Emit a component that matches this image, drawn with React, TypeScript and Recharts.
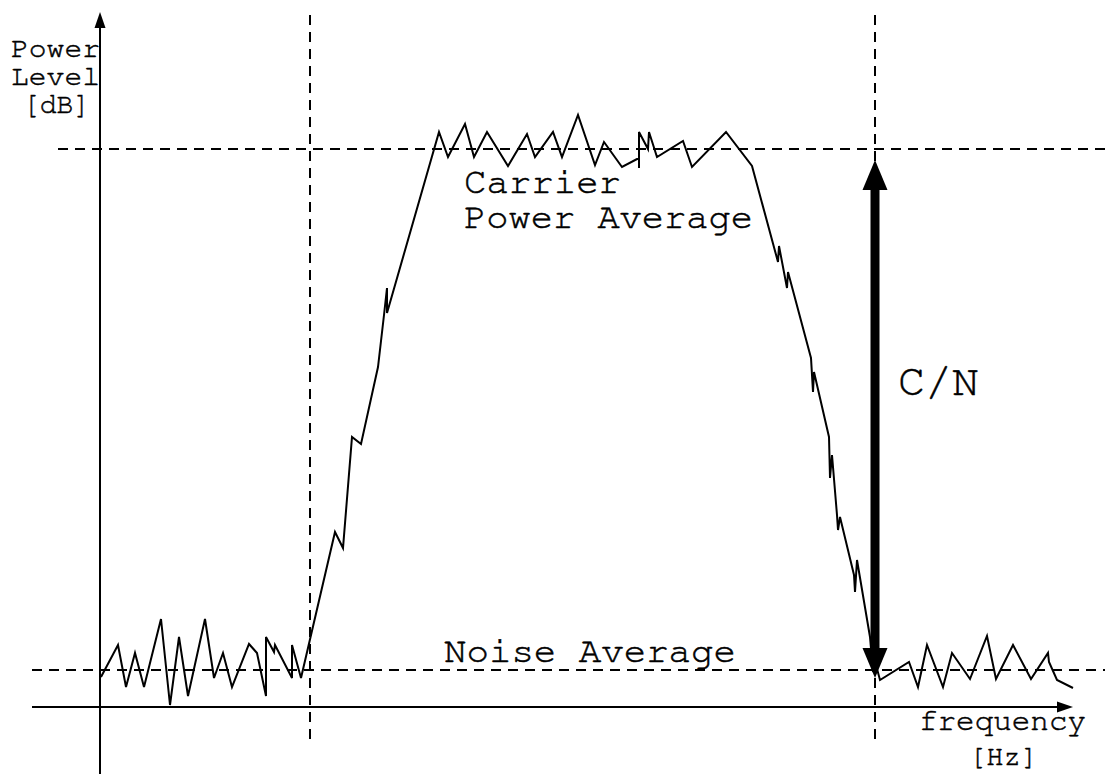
import React from "react";
import { LineChart, Line, XAxis, YAxis, ReferenceLine, Customized } from "recharts";

// [frequency, level] pairs (arbitrary units, origin at the axis crossing)
const noiseLeft: [number, number][] = [
  [1, 30], [18, 62], [26, 20], [35, 54], [44, 20], [61, 88], [70, 2], [79, 70],
  [88, 11], [105, 88], [114, 29], [123, 54], [132, 20], [149, 63], [157, 54],
  [166, 11], [166, 70], [174, 55], [175, 62], [192, 29], [192, 62], [201, 29],
];
const risingEdge: [number, number][] = [
  [235, 175], [243, 159], [252, 270], [261, 263], [278, 340], [284, 392],
  [287, 419], [287, 394], [339, 575],
];
const carrierTop: [number, number][] = [
  [348, 550], [365, 583], [374, 550], [387, 575], [408, 541], [427, 573],
  [435, 550], [453, 575], [462, 550], [478, 592], [495, 542], [504, 565],
  [522, 540], [539, 549], [539, 539], [539, 575], [548, 558], [549, 575],
  [557, 550], [583, 566], [592, 540], [626, 575], [652, 541],
];
const fallingEdge: [number, number][] = [
  [678, 445], [679, 461], [687, 419], [688, 435], [711, 349], [713, 315],
  [714, 335], [729, 270], [730, 229], [732, 252], [737, 192], [738, 177],
  [740, 190], [754, 132], [755, 115], [757, 147], [770, 70], [773, 35],
];
const noiseRight: [number, number][] = [
  [776, 42], [780, 27], [809, 45], [818, 20], [827, 62], [843, 20], [852, 54],
  [870, 28], [887, 71], [896, 28], [913, 62], [931, 28], [948, 54], [949, 45],
  [957, 27], [973, 19],
];

const noiseAverage = 37;
const carrierAverage = 558;
const bandEdges = [210, 775];

const data = [...noiseLeft, ...risingEdge, ...carrierTop, ...fallingEdge, ...noiseRight].map(
  ([f, level]) => ({ f, level })
);

const W = 1105;
const H = 774;

const arrowShape = (head: number, headW: number, shaft: number, both: boolean) => (props: any) => {
  const { x1, y1, x2, y2 } = props;
  const len = Math.hypot(x2 - x1, y2 - y1) || 1;
  const ux = (x2 - x1) / len;
  const uy = (y2 - y1) / len;
  const nx = -uy;
  const ny = ux;
  const tri = (tx: number, ty: number, dx: number, dy: number) => {
    const bx = tx - dx * head;
    const by = ty - dy * head;
    return `${tx},${ty} ${bx + nx * headW / 2},${by + ny * headW / 2} ${bx - nx * headW / 2},${by - ny * headW / 2}`;
  };
  const sx = both ? x1 + ux * (head - 1) : x1;
  const sy = both ? y1 + uy * (head - 1) : y1;
  return (
    <g>
      <line x1={sx} y1={sy} x2={x2 - ux * (head - 1)} y2={y2 - uy * (head - 1)} stroke="#000" strokeWidth={shaft} />
      <polygon points={tri(x2, y2, ux, uy)} fill="#000" />
      {both && <polygon points={tri(x1, y1, -ux, -uy)} fill="#000" />}
    </g>
  );
};

const font = "'Nimbus Mono PS', 'Nimbus Mono L', FreeMono, Courier, 'Liberation Mono', monospace";

const Labels = () => (
  <g fontFamily={font} fill="#000" stroke="#000" strokeWidth={0.5}>
    <text x={11} y={57} fontSize={29} textLength={89} lengthAdjust="spacingAndGlyphs">Power</text>
    <text x={11} y={85} fontSize={29} textLength={89} lengthAdjust="spacingAndGlyphs">Level</text>
    <text x={23} y={113} fontSize={29} textLength={67} lengthAdjust="spacingAndGlyphs">[dB]</text>
    <text x={464} y={193} fontSize={36} textLength={157} lengthAdjust="spacingAndGlyphs">Carrier</text>
    <text x={464} y={228} fontSize={36} textLength={289} lengthAdjust="spacingAndGlyphs">Power Average</text>
    <text x={444} y={662} fontSize={36} textLength={292} lengthAdjust="spacingAndGlyphs">Noise Average</text>
    <text x={898} y={395} fontSize={44} textLength={81} lengthAdjust="spacingAndGlyphs">C/N</text>
    <text x={919} y={730} fontSize={30} textLength={167} lengthAdjust="spacingAndGlyphs">frequency</text>
    <text x={969} y={765} fontSize={28} textLength={69} lengthAdjust="spacingAndGlyphs">[Hz]</text>
  </g>
);

export default function App() {
  return (
    <div style={{ position: "absolute", left: 0, top: 0, background: "#fff" }}>
      <LineChart width={W} height={H} data={data} margin={{ top: 0, right: 0, bottom: 0, left: 0 }}>
        <XAxis type="number" dataKey="f" domain={[-100, 1005]} allowDataOverflow hide />
        <YAxis type="number" domain={[-67, 707]} allowDataOverflow hide />
        <ReferenceLine
          segment={[{ x: -42, y: carrierAverage }, { x: 1005, y: carrierAverage }]}
          stroke="#000"
          strokeWidth={2}
          strokeDasharray="10 7"
        />
        <ReferenceLine
          segment={[{ x: -68, y: noiseAverage }, { x: 1005, y: noiseAverage }]}
          stroke="#000"
          strokeWidth={2}
          strokeDasharray="10 7"
        />
        {bandEdges.map((x) => (
          <ReferenceLine
            key={x}
            segment={[{ x, y: 692 }, { x, y: -33 }]}
            stroke="#000"
            strokeWidth={2}
            strokeDasharray="10 7"
          />
        ))}
        <ReferenceLine segment={[{ x: -68, y: 0 }, { x: 973, y: 0 }]} shape={arrowShape(16, 11, 2, false)} />
        <ReferenceLine segment={[{ x: 0, y: -67 }, { x: 0, y: 695 }]} shape={arrowShape(16, 11, 2, false)} />
        <Line
          type="linear"
          dataKey="level"
          stroke="#000"
          strokeWidth={2}
          dot={false}
          activeDot={false}
          isAnimationActive={false}
        />
        <ReferenceLine
          segment={[{ x: 775, y: 29 }, { x: 775, y: 547 }]}
          shape={arrowShape(30, 25, 9, true)}
        />
        <Customized component={Labels} />
      </LineChart>
    </div>
  );
}
